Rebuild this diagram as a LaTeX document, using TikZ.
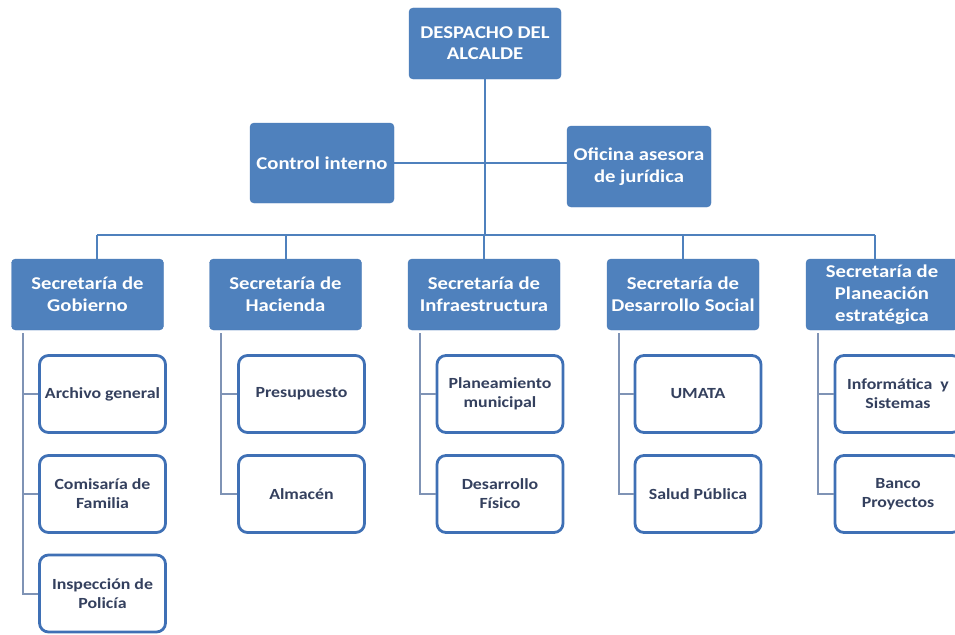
\documentclass[tikz,border=0pt]{standalone}
\usepackage{fontspec}
\setmainfont{Carlito}[FakeStretch=1.15]
\usetikzlibrary{positioning}
\definecolor{orgblue}{HTML}{4F81BD}
\definecolor{orgedge}{HTML}{4A7AB6}
\definecolor{kidline}{HTML}{3F70B5}
\definecolor{kidtext}{HTML}{34405E}
\definecolor{spinegray}{HTML}{7F93B5}

\begin{document}
\begin{tikzpicture}[x=1pt,y=-1pt,head/.style={draw=orgedge, fill=orgblue, rounded corners=4pt, text=white, font=\bfseries\fontsize{18}{22}\selectfont, align=center, minimum width=152pt, minimum height=71pt, inner sep=2pt},kid/.style={draw=kidline, line width=2.8pt, fill=white, rounded corners=9pt, text=kidtext, font=\bfseries\fontsize{15.5}{19}\selectfont, align=center, minimum width=126pt, minimum height=77pt, inner sep=2pt},link/.style={draw=orgblue, line width=2pt},spine/.style={draw=spinegray, line width=2pt}]
\useasboundingbox (0,0) rectangle (955,634);
\node[head, font=\bfseries\fontsize{18}{21}\selectfont] (alcalde) at (485,43.5) {DESPACHO DEL\\ALCALDE};
\node[head, minimum width=144pt, minimum height=80pt] (control) at (322,163) {Control interno};
\node[head, minimum width=144pt, minimum height=81pt] (oficina) at (639,166.5) {Oficina asesora\\de jurídica};
\coordinate (busL) at (97,235); \coordinate (busR) at (875,235);
\node[head] (gob) at (87.5,294.5) {Secretaría de\\Gobierno};
\node[head] (hac) at (285.5,294.5) {Secretaría de\\Hacienda};
\node[head] (inf) at (484,294.5) {Secretaría de\\Infraestructura};
\node[head] (soc) at (683,294.5) {Secretaría de\\Desarrollo Social};
\node[head] (plan) at (882,294.5) {Secretaría de\\Planeación\\estratégica};
\draw[link] (alcalde.south) -- (alcalde.south |- busL); \draw[link] (control.east) -- (control.east -| oficina.west);
\draw[link] (busL) -- (busR); \draw[link] (busL) -- (busL |- gob.north); \draw[link] (busR) -- (busR |- plan.north);
\draw[link] (hac.north |- busL) -- (hac.north); \draw[link] (inf.north |- busL) -- (inf.north); \draw[link] (soc.north |- busL) -- (soc.north);
% second level
\node[kid] (gob1) at (102.5,394) {Archivo general};
\node[kid] (gob2) at (102.5,494) {Comisaría de\\Familia};
\node[kid] (gob3) at (102.5,593.5) {Inspección de\\Policía};
\node[kid] (hac1) at (301.5,394) {Presupuesto};
\node[kid] (hac2) at (301.5,494) {Almacén};
\node[kid] (inf1) at (500,394) {Planeamiento\\municipal};
\node[kid] (inf2) at (500,494) {Desarrollo\\Físico};
\node[kid] (soc1) at (698,394) {UMATA};
\node[kid] (soc2) at (698,494) {Salud Pública};
\node[kid] (plan1) at (898,394) {Informática~~y\\Sistemas};
\node[kid] (plan2) at (898,494) {Banco\\Proyectos};
\draw[spine] ([xshift=12pt,yshift=-3pt]gob.south west) |- (gob1.west); \draw[spine] ([xshift=12pt,yshift=-3pt]gob.south west) |- (gob2.west); \draw[spine] ([xshift=12pt,yshift=-3pt]gob.south west) |- (gob3.west);
\draw[spine] ([xshift=12pt,yshift=-3pt]hac.south west) |- (hac1.west); \draw[spine] ([xshift=12pt,yshift=-3pt]hac.south west) |- (hac2.west);
\draw[spine] ([xshift=12pt,yshift=-3pt]inf.south west) |- (inf1.west); \draw[spine] ([xshift=12pt,yshift=-3pt]inf.south west) |- (inf2.west);
\draw[spine] ([xshift=12pt,yshift=-3pt]soc.south west) |- (soc1.west); \draw[spine] ([xshift=12pt,yshift=-3pt]soc.south west) |- (soc2.west);
\draw[spine] ([xshift=12pt,yshift=-3pt]plan.south west) |- (plan1.west); \draw[spine] ([xshift=12pt,yshift=-3pt]plan.south west) |- (plan2.west);
\end{tikzpicture}
\end{document}
